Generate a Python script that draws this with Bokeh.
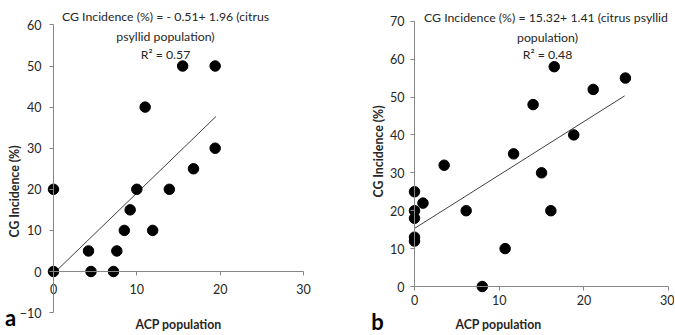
from bokeh.plotting import figure
from bokeh.models import Range1d, Label, FixedTicker
from bokeh.layouts import row
from bokeh.embed import file_html
from bokeh.resources import INLINE

# ---- data ----
a_acp = [0, 0, 4.2, 4.5, 7.2, 7.6, 8.5, 9.2, 10.0, 11.0, 11.9, 13.9, 15.5, 16.8, 19.4, 19.4]
a_cg = [20, 0, 5, 0, 0, 5, 10, 15, 20, 40, 10, 20, 50, 25, 50, 30]
a_intercept, a_slope, a_r2 = -0.51, 1.96, 0.57
a_fit_x = [0, 19.5]

b_acp = [0, 0, 0, 0, 0, 1.0, 3.5, 6.1, 8.0, 10.7, 11.7, 14.0, 15.0, 16.1, 16.5, 18.8, 21.1, 24.9]
b_cg = [25, 20, 18, 13, 12, 22, 32, 20, 0, 10, 35, 48, 30, 20, 58, 40, 52, 55]
b_intercept, b_slope, b_r2 = 15.32, 1.41, 0.48
b_fit_x = [0, 24.8]

a_xticks = [0, 10, 20, 30]
a_yticks = [-10, 0, 10, 20, 30, 40, 50, 60]
b_xticks = [0, 10, 20, 30]
b_yticks = [0, 10, 20, 30, 40, 50, 60, 70]

a_title = ["CG Incidence (%) = - 0.51+ 1.96 (citrus", "psyllid population)", "R\u00b2 = 0.57"]
b_title = ["CG Incidence  (%) = 15.32+ 1.41 (citrus psyllid", "population)", "R\u00b2 = 0.48"]
x_label = "ACP population"
y_label = "CG Incidence (%)"

FONT = "Lato"
TXT = "#262626"
AX = "#868686"


def make_panel(W, H, x0px, xppu, y0px, yppu, xbounds, ybounds,
               xticks, yticks, xs, ys, inter, slope, fit_x, title_lines,
               title_pos, ylab_pos, xlab_pos, letter, letter_pos, xstand, ystand):
    xr = (-x0px / xppu, (W - x0px) / xppu)
    yr = (-(H - y0px) / yppu, y0px / yppu)
    p = figure(width=W, height=H, output_backend="svg", toolbar_location=None,
               x_range=Range1d(*xr), y_range=Range1d(*yr),
               min_border_left=0, min_border_right=0,
               min_border_top=0, min_border_bottom=0)
    p.outline_line_color = None
    p.xgrid.visible = False
    p.ygrid.visible = False
    p.background_fill_color = "white"
    p.border_fill_color = "white"

    def to_data(lx, ly):
        return (lx - x0px) / xppu, (y0px - ly) / yppu

    for ax, ticks, bnds, stand in ((p.xaxis[0], xticks, xbounds, xstand),
                                   (p.yaxis[0], yticks, ybounds, ystand)):
        ax.fixed_location = 0
        ax.ticker = FixedTicker(ticks=ticks)
        ax.bounds = bnds
        ax.axis_line_color = AX
        ax.major_tick_line_color = AX
        ax.major_tick_out = 4
        ax.major_tick_in = 0
        ax.minor_tick_line_color = None
        ax.major_label_text_font = FONT
        ax.major_label_text_font_size = "12.5px"
        ax.major_label_text_color = TXT
        ax.major_label_standoff = stand

    fy = [inter + slope * x for x in fit_x]
    p.line(fit_x, fy, line_color="#404040", line_width=1)
    p.scatter(xs, ys, size=10.5, fill_color="black", line_color="black")

    for i, t in enumerate(title_lines):
        dx, dy = to_data(title_pos[0], title_pos[1][i])
        p.add_layout(Label(x=dx, y=dy, text=t, text_align="center",
                           text_baseline="middle", text_font=FONT,
                           text_font_size="12.3px", text_color=TXT))
    dx, dy = to_data(*ylab_pos)
    p.add_layout(Label(x=dx, y=dy, text=y_label, angle=1.5708,
                       text_align="center", text_baseline="middle",
                       text_font=FONT, text_font_size="12.3px",
                       text_font_style="bold", text_color=TXT))
    dx, dy = to_data(*xlab_pos)
    p.add_layout(Label(x=dx, y=dy, text=x_label, text_align="center",
                       text_baseline="middle", text_font=FONT,
                       text_font_size="12.3px", text_font_style="bold",
                       text_color=TXT))
    dx, dy = to_data(*letter_pos)
    p.add_layout(Label(x=dx, y=dy, text=letter, text_align="center",
                       text_baseline="middle", text_font=FONT,
                       text_font_size="22px", text_font_style="bold",
                       text_color="black"))
    return p


pa = make_panel(337, 334, 53, 8.333, 271, 4.11, (0, 30), (-10, 60),
                a_xticks, a_yticks, a_acp, a_cg, a_intercept, a_slope, a_fit_x,
                a_title, (165, [16, 36, 54]), (14, 191), (178, 324),
                "a", (10, 317), 8, 8)

pb = make_panel(337, 334, 77, 8.47, 286, 3.79, (0, 30), (0, 70),
                b_xticks, b_yticks, b_acp, b_cg, b_intercept, b_slope, b_fit_x,
                b_title, (210, [17, 37, 54]), (41, 151), (161, 324),
                "b", (40, 321), 4, 6)

layout = row(pa, pb, spacing=0)
open("out.html", "w").write(file_html(layout, INLINE))
